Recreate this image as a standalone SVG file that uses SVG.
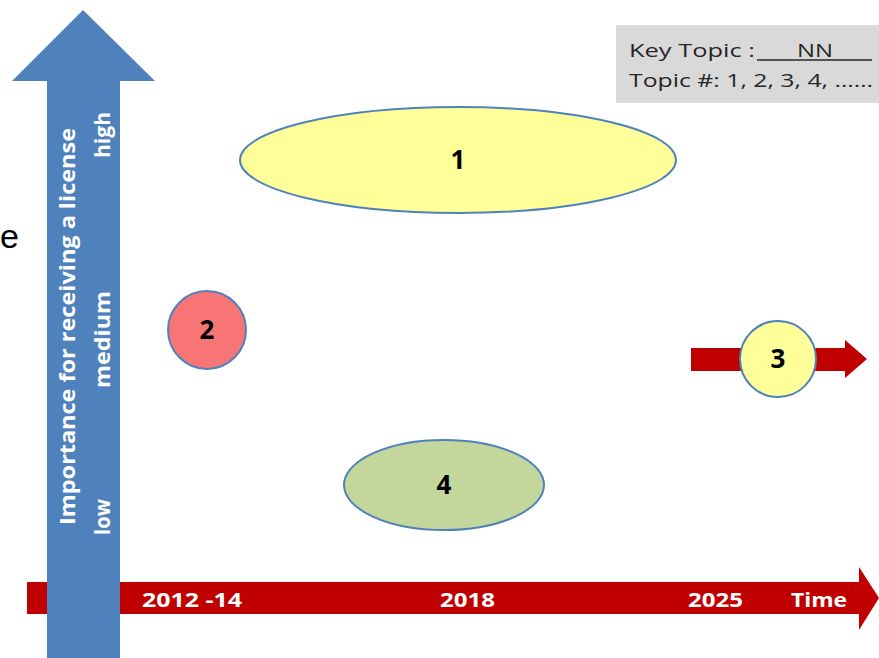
<svg xmlns="http://www.w3.org/2000/svg" width="879" height="658" viewBox="0 0 879 658">
<style>
.lbl{font-family:"Open Sans","Liberation Sans",sans-serif;font-weight:bold;fill:#000;font-size:26px;text-anchor:middle}
.wt{font-family:"Open Sans","Liberation Sans",sans-serif;font-weight:bold;fill:#fff}
.key{font-family:"Open Sans","Liberation Sans",sans-serif;fill:#262626;font-size:19px}
.node{stroke:#4F81BD;stroke-width:2}
</style>
<rect width="879" height="658" fill="#fff"/>
<text x="0" y="248" font-family="Liberation Sans,sans-serif" font-size="34" fill="#000">e</text>
<g id="time-axis">
<path d="M27 582 H859 V567 L879 598 L859 630 V614 H27 Z" fill="#C00000"/>
<text class="wt" font-size="19" x="142" y="607" textLength="100" lengthAdjust="spacingAndGlyphs">2012 -14</text>
<text class="wt" font-size="19" x="440" y="607" textLength="55" lengthAdjust="spacingAndGlyphs">2018</text>
<text class="wt" font-size="19" x="688" y="607" textLength="55" lengthAdjust="spacingAndGlyphs">2025</text>
<text class="wt" font-size="19" x="791" y="607" textLength="56" lengthAdjust="spacingAndGlyphs">Time</text>
</g>
<g id="importance-axis">
<path d="M47 658 V81 H12 L83 10 L155 81 H120 V658 Z" fill="#4F81BD"/>
<text class="wt" font-size="22" transform="translate(75,525) rotate(-90)" textLength="397" lengthAdjust="spacingAndGlyphs">Importance  for receiving a license</text>
<text class="wt" font-size="22" transform="translate(110,535) rotate(-90)" textLength="36" lengthAdjust="spacingAndGlyphs">low</text>
<text class="wt" font-size="22" transform="translate(110,388) rotate(-90)" textLength="97" lengthAdjust="spacingAndGlyphs">medium</text>
<text class="wt" font-size="22" transform="translate(110,158) rotate(-90)" textLength="46" lengthAdjust="spacingAndGlyphs">high</text>
</g>
<g id="key">
<rect x="616" y="25" width="263" height="78" fill="#D9D9D9"/>
<text class="key" x="629" y="57" textLength="126" lengthAdjust="spacingAndGlyphs">Key Topic : </text>
<text class="key" x="797" y="57" textLength="36" lengthAdjust="spacingAndGlyphs">NN</text>
<line x1="757" y1="60" x2="872" y2="60" stroke="#262626" stroke-width="1.5"/>
<text class="key" x="629" y="87" textLength="244" lengthAdjust="spacingAndGlyphs">Topic #: 1, 2, 3, 4, ……</text>
</g>
<g id="connectors">
<path d="M691 348 H845 V340 L867 359 L845 378 V371 H691 Z" fill="#C00000"/>
</g>
<g id="topic-1">
<ellipse class="node" cx="458" cy="160" rx="218" ry="53" fill="#FFFF99"/>
<text class="lbl" x="458" y="169">1</text>
</g>
<g id="topic-2">
<circle class="node" cx="207" cy="330" r="39" fill="#F87575"/>
<text class="lbl" x="207" y="339">2</text>
</g>
<g id="topic-3">
<circle class="node" cx="778" cy="359" r="38" fill="#FFFF99"/>
<text class="lbl" x="778" y="368">3</text>
</g>
<g id="topic-4">
<ellipse class="node" cx="444" cy="485" rx="100" ry="45" fill="#C3D69B"/>
<text class="lbl" x="444" y="494">4</text>
</g>
</svg>
